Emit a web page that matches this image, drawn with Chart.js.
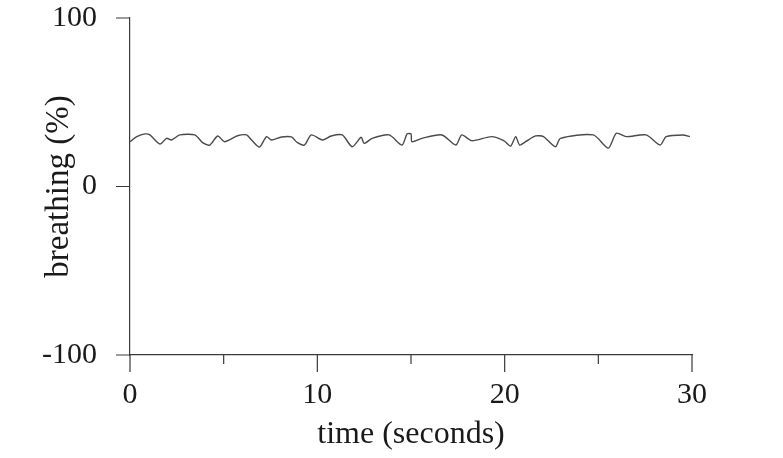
<!DOCTYPE html>
<html>
<head>
<meta charset="utf-8">
<script src="https://cdn.jsdelivr.net/npm/chart.js@4/dist/chart.umd.min.js"></script>
<style>
  html, body { margin: 0; padding: 0; background: #fff; }
  #wrap { width: 783px; height: 458px; }
</style>
</head>
<body>
<div id="wrap"><canvas id="myChart" width="783" height="458"></canvas></div>
<script>
/* Breathing trace */

// time in seconds
const times = [
  0, 0.36, 0.8, 1.06, 1.6, 1.95, 2.22, 2.66, 3.46, 3.88, 4.26, 4.68, 5.05, 5.74,
  6.22, 6.49, 6.91, 7.29, 7.55, 8.09, 8.62, 8.94, 9.31, 9.68, 10.27, 10.74, 11.33,
  11.86, 12.34, 12.5, 12.93, 13.83, 14.52, 14.79, 15.0, 15.05, 15.59, 16.65, 17.39,
  17.71, 18.24, 19.31, 19.95, 20.32, 20.59, 20.8, 21.12, 21.65, 22.07, 22.71, 22.98,
  24.73, 25.53, 25.96, 26.49, 27.55, 28.3, 28.62, 29.52, 29.89
];
// breathing (%)
const breathing = [
  26.6, 29.6, 31.2, 30.6, 25.2, 28.6, 27.6, 30.6, 30.6, 26, 24.6, 30, 26.6, 30.1,
  30.6, 27.6, 23.4, 29.6, 27.6, 29.4, 29.4, 26, 24.6, 30.6, 27.6, 30, 30.6,
  23.6, 29.2, 25.6, 28.6, 30.6, 24.6, 31.2, 31.2, 26.6, 28.6, 30.6, 24.6,
  30.6, 27.2, 29.6, 27.2, 24, 29.6, 24.6, 26.6, 30, 29.6, 23.6, 28.6,
  30.6, 22.8, 31.6, 29.6, 30.6, 24.6, 29.6, 30.6, 29.6
];
const xMajorTicks = [0, 10, 20, 30];
const xMinorTicks = [5, 15, 25];
const yTicks = [-100, 0, 100];

const axisColor = '#3a3a3a';
const textColor = '#1a1a1a';
const serif = "'Liberation Serif', 'DejaVu Serif', serif";

// draws the outward tick marks (major longer than minor)
const tickMarks = {
  id: 'tickMarks',
  afterDraw(chart) {
    const ctx = chart.ctx;
    const x = chart.scales.x;
    const y = chart.scales.y;
    const area = chart.chartArea;
    ctx.save();
    ctx.strokeStyle = axisColor;
    ctx.lineWidth = 1.2;
    ctx.beginPath();
    xMajorTicks.forEach(v => {
      const px = x.getPixelForValue(v);
      ctx.moveTo(px, area.bottom);
      ctx.lineTo(px, area.bottom + 17);
    });
    xMinorTicks.forEach(v => {
      const px = x.getPixelForValue(v);
      ctx.moveTo(px, area.bottom);
      ctx.lineTo(px, area.bottom + 9);
    });
    yTicks.forEach(v => {
      const py = y.getPixelForValue(v);
      ctx.moveTo(area.left - 14, py);
      ctx.lineTo(area.left, py);
    });
    ctx.stroke();
    ctx.restore();
  }
};

function initChart() {
  const ctx = document.getElementById('myChart').getContext('2d');

  // eslint-disable-next-line no-unused-vars
  const myChart = new Chart(ctx, {
    type: 'line',
    data: {
      datasets: [{
        label: 'breathing',
        data: times.map((t, i) => ({ x: t, y: breathing[i] })),
        borderColor: '#4a4a4a',
        borderWidth: 1.4,
        pointRadius: 0,
        tension: 0.25,
        fill: false
      }]
    },
    options: {
      responsive: false,
      animation: false,
      layout: { padding: { top: 18, right: 91, left: 0, bottom: 0 } },
      plugins: {
        legend: { display: false },
        tooltip: { enabled: false }
      },
      scales: {
        x: {
          type: 'linear',
          min: 0,
          max: 30,
          grid: { display: false },
          border: { display: true, color: axisColor, width: 1.2 },
          ticks: {
            stepSize: 10,
            padding: 14,
            color: textColor,
            font: { family: serif, size: 30 }
          },
          title: {
            display: true,
            text: 'time (seconds)',
            color: textColor,
            font: { family: serif, size: 32 },
            padding: { top: 0 }
          },
          afterFit(scale) {
            scale.height = 103;
            scale.paddingLeft = 0;
            scale.paddingRight = 0;
          }
        },
        y: {
          min: -100,
          max: 100,
          grid: { display: false },
          border: { display: true, color: axisColor, width: 1.2 },
          ticks: {
            stepSize: 100,
            padding: 25,
            color: textColor,
            font: { family: serif, size: 30 }
          },
          title: {
            display: true,
            text: 'breathing (%)',
            color: textColor,
            font: { family: serif, size: 33 },
            padding: { top: 40, bottom: 0 }
          },
          afterFit(scale) {
            scale.width = 130;
            scale.paddingTop = 0;
            scale.paddingBottom = 0;
          }
        }
      }
    },
    plugins: [tickMarks]
  });
}

const app = () => {
  initChart();
};

app();
</script>
</body>
</html>
